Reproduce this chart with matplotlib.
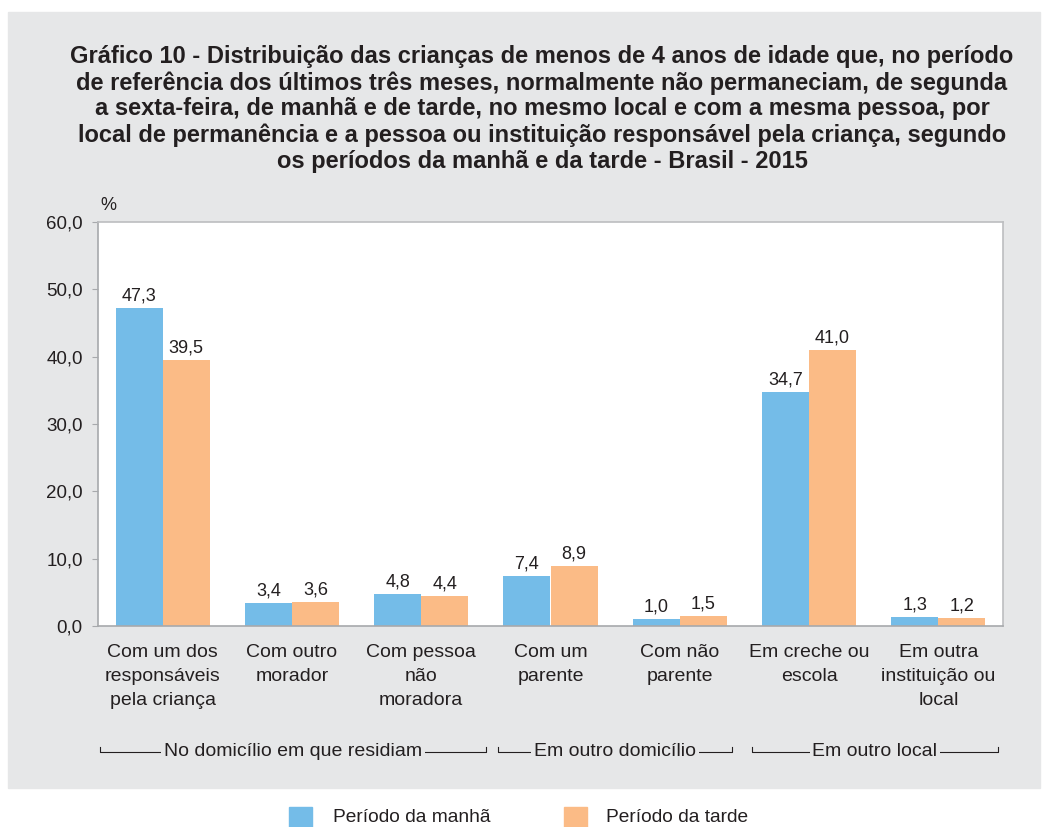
import matplotlib.pyplot as plt
from matplotlib.patches import Rectangle
import numpy as np

plt.rcParams['font.family'] = ['Liberation Sans', 'DejaVu Sans']

# Dados
categorias = ['Com um dos\nresponsáveis\npela criança', 'Com outro\nmorador',
              'Com pessoa\nnão\nmoradora', 'Com um\nparente', 'Com não\nparente',
              'Em creche ou\nescola', 'Em outra\ninstituição ou\nlocal']
manha = [47.3, 3.4, 4.8, 7.4, 1.0, 34.7, 1.3]
tarde = [39.5, 3.6, 4.4, 8.9, 1.5, 41.0, 1.2]
grupos = ['No domicílio em que residiam', 'Em outro domicílio', 'Em outro local']
grupo_lim = [(-0.484, 2.501), (2.594, 4.404), (4.558, 6.461)]
yticks = [0, 10, 20, 30, 40, 50, 60]

cor_manha = '#74bce8'
cor_tarde = '#fbbb86'
fundo = '#e6e7e8'
texto = '#231f20'


def fmt(v):
    return f'{v:.1f}'.replace('.', ',')


fig = plt.figure(figsize=(10.48, 8.27), dpi=100)
fig.patches.append(Rectangle((8 / 1048, 1 - 788 / 827), 1032 / 1048, 776 / 827,
                             transform=fig.transFigure, color=fundo, zorder=-10))

ax = fig.add_axes([98 / 1048, 1 - 626 / 827, 905 / 1048, 404 / 827])
ax.set_zorder(5)
x = np.arange(len(categorias))
w = 0.364
ax.bar(x - w / 2, manha, w, color=cor_manha)
ax.bar(x + w / 2, tarde, w, color=cor_tarde)
for xi, v in zip(x, manha):
    ax.annotate(fmt(v), (xi - w / 2, v), xytext=(0, 2.5), textcoords='offset points',
                ha='center', va='bottom', fontsize=13, color=texto)
for xi, v in zip(x, tarde):
    ax.annotate(fmt(v), (xi + w / 2, v), xytext=(0, 2.5), textcoords='offset points',
                ha='center', va='bottom', fontsize=13, color=texto)

ax.set_xlim(-0.5, len(categorias) - 0.5)
ax.set_ylim(0, 60)
ax.set_yticks(yticks)
ax.set_yticklabels([fmt(t) for t in yticks], fontsize=13.5, color=texto)
ax.set_xticks(x)
ax.set_xticklabels(categorias, fontsize=14, color=texto, linespacing=1.55, va='top')
ax.tick_params(axis='x', length=0, pad=13)
ax.tick_params(axis='y', length=4, color='#a7a9ac', pad=7)
for s in ax.spines.values():
    s.set_color('#bcbec0')
    s.set_linewidth(1.2)
ax.spines['left'].set_color('#a7a9ac')
ax.spines['bottom'].set_color('#a7a9ac')
ax.text(0.003, 1.03, '%', transform=ax.transAxes, fontsize=13, color=texto)

# Colchetes dos grupos
ytr = ax.get_xaxis_transform()
yb = -126 / 404
for nome, (x0, x1) in zip(grupos, grupo_lim):
    t = ax.text((x0 + x1) / 2, yb, nome, transform=ytr, ha='center', va='center',
                fontsize=14, color=texto, bbox=dict(facecolor=fundo, edgecolor='none', pad=2))
    ax.plot([x0, x0, x1, x1], [yb + 0.012, yb, yb, yb + 0.012], transform=ytr,
            color=texto, lw=0.8, clip_on=False, zorder=1)
    t.set_zorder(2)

fig.text(542 / 1048, 1 - 109 / 827,
         'Gráfico 10 - Distribuição das crianças de menos de 4 anos de idade que, no período\n'
         'de referência dos últimos três meses, normalmente não permaneciam, de segunda\n'
         'a sexta-feira, de manhã e de tarde, no mesmo local e com a mesma pessoa, por\n'
         'local de permanência e a pessoa ou instituição responsável pela criança, segundo\n'
         'os períodos da manhã e da tarde - Brasil - 2015',
         ha='center', va='center', fontsize=17, fontweight='bold', color=texto,
         linespacing=1.155)

# Legenda
fig.patches.append(Rectangle((289 / 1048, 1 - 827 / 827), 23 / 1048, 20 / 827,
                             transform=fig.transFigure, color=cor_manha))
fig.text(333 / 1048, 1 - 817 / 827, 'Período da manhã', fontsize=13.8, color=texto, va='center')
fig.patches.append(Rectangle((564 / 1048, 1 - 827 / 827), 23 / 1048, 20 / 827,
                             transform=fig.transFigure, color=cor_tarde))
fig.text(606 / 1048, 1 - 817 / 827, 'Período da tarde', fontsize=13.8, color=texto, va='center')

fig.savefig('out.png', dpi=100)
